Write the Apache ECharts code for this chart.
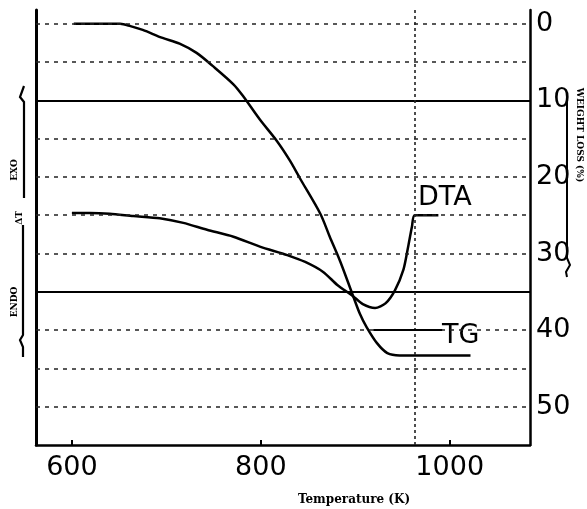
<!DOCTYPE html>
<html><head><meta charset="utf-8">
<script src="https://cdn.jsdelivr.net/npm/echarts@6/dist/echarts.min.js"></script>
<style>html,body{margin:0;padding:0;background:#fff}#c{width:587px;height:509px}</style>
</head><body><div id="c"></div>
<script>
// Temperature (K) and weight loss (%) of the TG curve
const tgTemp = [602, 651, 662, 675, 696, 714, 732, 749, 771, 781, 799, 817, 831, 842, 863, 873, 884, 897, 905, 912, 923, 934, 947, 1022];
const tgLoss = [0, 0, 0.3, 0.8, 1.85, 2.6, 3.8, 5.5, 7.9, 9.4, 12.5, 15.3, 17.9, 20.3, 24.8, 27.8, 31.0, 35.3, 37.9, 39.6, 41.7, 43.0, 43.3, 43.3];
// Temperature (K) and DTA signal (arbitrary units, exo up)
const dtaTemp = [600, 619, 640, 665, 693, 718, 743, 771, 799, 828, 847, 866, 881, 897, 908, 921, 932, 942, 951, 956, 960, 963, 988];
const dtaSignal = [30.3, 30.3, 30.2, 29.9, 29.6, 29.0, 28.1, 27.2, 25.9, 24.8, 23.9, 22.6, 20.9, 19.5, 18.4, 17.9, 18.5, 20.2, 22.9, 25.9, 28.5, 30.0, 30.0];
// tick labels
const xTicks = [600, 800, 1000];
const yTicks = [0, 10, 20, 30, 40, 50];
// reference grid lines (weight-loss axis) and vertical marker
const dottedLevels = [0, 5, 15, 20, 25, 30, 40, 45, 50];
const solidLevels = [10, 35];
const verticalMarks = [963];
const tgLeader = [[919, 40], [992, 40]];

const chart = echarts.init(document.getElementById('c'), null, {renderer: 'canvas', devicePixelRatio: 1});

const markData = [];
dottedLevels.forEach(v => markData.push({yAxis: v, lineStyle: {type: [4, 5], width: 1.6, color: '#222'}}));
solidLevels.forEach(v => markData.push({yAxis: v, lineStyle: {type: 'solid', width: 2, color: '#000'}}));
verticalMarks.forEach(v => markData.push({xAxis: v, lineStyle: {type: [3, 3], width: 1.6, color: '#222'}}));
markData.push([{coord: tgLeader[0]}, {coord: tgLeader[1], lineStyle: {type: 'solid', width: 2, color: '#000'}}]);

const numFont = 'DejaVu Sans';
const serifBold = 'bold 9px "DejaVu Serif"';

chart.setOption({
  animation: false,
  backgroundColor: '#fff',
  grid: {left: 36, right: 57, top: 10, bottom: 64},
  xAxis: {
    type: 'value', min: 562, max: 1085,
    axisLine: {lineStyle: {color: '#000', width: 2.5}},
    axisTick: {show: true, inside: true, length: 5, lineStyle: {color: '#000', width: 2}, customValues: xTicks},
    axisLabel: {color: '#000', fontSize: 27, fontFamily: numFont, margin: 9, customValues: xTicks, formatter: v => String(v)},
    splitLine: {show: false}
  },
  yAxis: [
    {
      type: 'value', name: '', position: 'left', min: 0, max: 56.8,
      axisLine: {show: true, lineStyle: {color: '#000', width: 3}},
      axisTick: {show: false}, axisLabel: {show: false}, splitLine: {show: false}
    },
    {
      type: 'value', position: 'right', inverse: true, min: -1.8, max: 55,
      axisLine: {show: true, lineStyle: {color: '#000', width: 2.5}},
      axisTick: {show: false, customValues: yTicks},
      axisLabel: {color: '#000', fontSize: 27, fontFamily: numFont, margin: 6, customValues: yTicks, formatter: v => String(v)},
      splitLine: {show: false}
    }
  ],
  series: [
    {
      name: 'TG', type: 'line', yAxisIndex: 1, smooth: 0.3, showSymbol: false,
      lineStyle: {color: '#000', width: 2.5},
      data: tgTemp.map((t, i) => [t, tgLoss[i]]),
      markLine: {silent: true, symbol: ['none', 'none'], label: {show: false}, data: markData},
      z: 3
    },
    {
      name: 'DTA', type: 'line', yAxisIndex: 0, smooth: 0.25, showSymbol: false,
      lineStyle: {color: '#000', width: 2.5},
      data: dtaTemp.map((t, i) => [t, dtaSignal[i]]),
      z: 3
    }
  ],
  graphic: [
    {type: 'text', x: 418, y: 198, style: {text: 'DTA', font: '27px "DejaVu Sans"', fill: '#000', align: 'left', verticalAlign: 'middle'}},
    {type: 'text', x: 442, y: 336, style: {text: 'TG', font: '27px "DejaVu Sans"', fill: '#000', align: 'left', verticalAlign: 'middle'}},
    {type: 'text', x: 354, y: 500, style: {text: 'Temperature (K)', font: 'bold 12px "DejaVu Serif"', fill: '#000', align: 'center', verticalAlign: 'middle'}},
    {type: 'text', x: 579, y: 135, rotation: -Math.PI / 2, style: {text: 'WEIGHT LOSS (%)', font: serifBold, fill: '#000', align: 'center', verticalAlign: 'middle'}},
    {type: 'polyline', shape: {points: [[567, 92], [567, 258], [570, 265], [566, 272], [567, 277]]}, style: {stroke: '#000', lineWidth: 2, fill: null}},
    {type: 'text', x: 15, y: 170, rotation: Math.PI / 2, style: {text: 'EXO', font: serifBold, fill: '#000', align: 'center', verticalAlign: 'middle'}},
    {type: 'text', x: 20, y: 218, rotation: Math.PI / 2, style: {text: 'ΔT', font: serifBold, fill: '#000', align: 'center', verticalAlign: 'middle'}},
    {type: 'text', x: 15, y: 302, rotation: Math.PI / 2, style: {text: 'ENDO', font: serifBold, fill: '#000', align: 'center', verticalAlign: 'middle'}},
    {type: 'polyline', shape: {points: [[24, 198], [24, 102], [20, 97], [24, 86]]}, style: {stroke: '#000', lineWidth: 2.2, fill: null}},
    {type: 'polyline', shape: {points: [[23, 225], [23, 335], [20, 340], [23, 347], [23, 357]]}, style: {stroke: '#000', lineWidth: 2.2, fill: null}}
  ]
});
</script>
</body></html>
